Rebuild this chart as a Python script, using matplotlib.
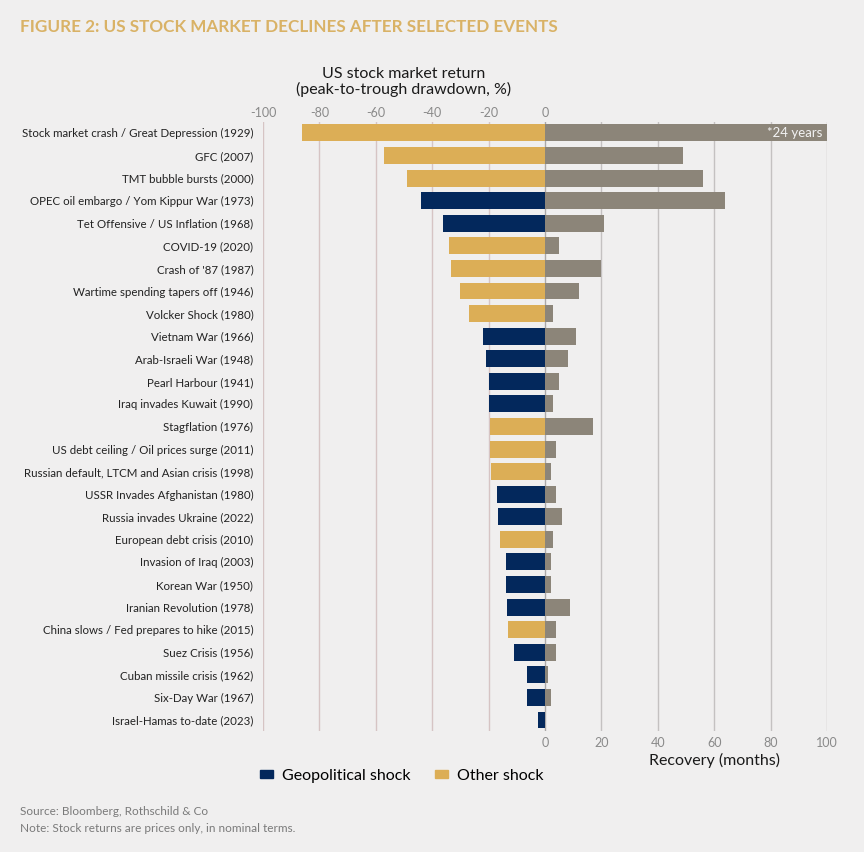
import matplotlib
matplotlib.use("Agg")
import matplotlib.pyplot as plt
from matplotlib.patches import Rectangle
import numpy as np

events = [
    "Stock market crash / Great Depression (1929)",
    "GFC (2007)",
    "TMT bubble bursts (2000)",
    "OPEC oil embargo / Yom Kippur War (1973)",
    "Tet Offensive / US Inflation (1968)",
    "COVID-19 (2020)",
    "Crash of '87 (1987)",
    "Wartime spending tapers off (1946)",
    "Volcker Shock (1980)",
    "Vietnam War (1966)",
    "Arab-Israeli War (1948)",
    "Pearl Harbour (1941)",
    "Iraq invades Kuwait (1990)",
    "Stagflation (1976)",
    "US debt ceiling / Oil prices surge (2011)",
    "Russian default, LTCM and Asian crisis (1998)",
    "USSR Invades Afghanistan (1980)",
    "Russia invades Ukraine (2022)",
    "European debt crisis (2010)",
    "Invasion of Iraq (2003)",
    "Korean War (1950)",
    "Iranian Revolution (1978)",
    "China slows / Fed prepares to hike (2015)",
    "Suez Crisis (1956)",
    "Cuban missile crisis (1962)",
    "Six-Day War (1967)",
    "Israel-Hamas to-date (2023)",
]
drawdown_pct = [-86, -57, -49, -44, -36, -34, -33.5, -30, -27, -22, -21, -20, -20,
                -19.5, -19.5, -19, -17, -16.5, -16, -14, -14, -13.5, -13, -11,
                -6.5, -6.5, -2.5]
recovery_months = [288, 49, 56, 64, 21, 5, 20, 12, 3, 11, 8, 5, 3,
                   17, 4, 2, 4, 6, 3, 2, 2, 9, 4, 4, 1, 2, 0]
shock_type = ["Other", "Other", "Other", "Geo", "Geo", "Other", "Other", "Other",
              "Other", "Geo", "Geo", "Geo", "Geo", "Other", "Other", "Other",
              "Geo", "Geo", "Other", "Geo", "Geo", "Geo", "Other", "Geo",
              "Geo", "Geo", "Geo"]
ticks = [-100, -80, -60, -40, -20, 0, 20, 40, 60, 80, 100]
top_tick_labels = ["-100", "-80", "-60", "-40", "-20", "0", "", "", "", "", ""]
bottom_tick_labels = ["", "", "", "", "", "0", "20", "40", "60", "80", "100"]

NAVY = "#03285C"
GOLD = "#DCAE56"
GREY = "#8C8579"
BG = "#F0EFEF"
FONT = ["Lato", "DejaVu Sans"]

plt.rcParams["font.family"] = FONT

fig = plt.figure(figsize=(8.64, 8.52), dpi=100, facecolor=BG)
ax = fig.add_axes([0.3044, 0.1417, 0.6528, 0.7155])
ax.set_facecolor(BG)

y = np.arange(len(events))
colors = [NAVY if t == "Geo" else GOLD for t in shock_type]
rec_shown = np.minimum(recovery_months, 100)

# gridlines
for t in ticks:
    c = "#D6C4C4" if t < 0 else "#C4C1C1"
    if t == 0:
        c = "#ABA8A8"
    ax.axvline(t, color=c, lw=1.0, zorder=0)

ax.barh(y, drawdown_pct, height=0.75, color=colors, edgecolor="none", zorder=2)
ax.barh(y, rec_shown, height=0.75, color=GREY, edgecolor="none", zorder=2)

ax.text(rec_shown[0] - 1.5, 0, "*24 years", color="#F2F2F2", fontsize=9.5,
        ha="right", va="center", zorder=3)

ax.set_xlim(-100, 100)
ax.set_ylim(len(events) - 0.5, -0.5)
ax.set_yticks(y)
ax.set_yticklabels(events, fontsize=8.3, color="#222222")
ax.tick_params(axis="y", length=0, pad=7)

ax.set_xticks(ticks)
ax.set_xticklabels(bottom_tick_labels, fontsize=9, color="#8a8a8a")
ax.tick_params(axis="x", length=0, pad=4, labeltop=False)
secax = ax.secondary_xaxis("top")
secax.set_xticks(ticks)
secax.set_xticklabels(top_tick_labels, fontsize=9, color="#8a8a8a")
secax.tick_params(length=0, pad=2)
for s in secax.spines.values():
    s.set_visible(False)
for s in ax.spines.values():
    s.set_visible(False)

fig.text(0.0231, 0.968, "FIGURE 2: US STOCK MARKET DECLINES AFTER SELECTED EVENTS",
         color="#D9B266", fontsize=12.3, fontweight="bold", ha="left", va="center")

# top axis title, centred over -50
fig.text(0.3044 + 0.6528 * 0.25, 0.904, "US stock market return\n(peak-to-trough drawdown, %)",
         fontsize=11.5, color="#1a1a1a", ha="center", va="center", linespacing=1.05)
fig.text(0.3044 + 0.6528 * 0.80, 0.108, "Recovery (months)", fontsize=11.5,
         color="#1a1a1a", ha="center", va="center")

handles = [Rectangle((0, 0), 1, 1, color=NAVY), Rectangle((0, 0), 1, 1, color=GOLD)]
fig.legend(handles, ["Geopolitical shock", "Other shock"], loc="center",
           bbox_to_anchor=(0.465, 0.089), ncol=2, frameon=False, fontsize=11.5,
           handlelength=0.8, handleheight=0.4, handletextpad=0.6, columnspacing=1.5)

fig.text(0.0231, 0.048, "Source: Bloomberg, Rothschild & Co", fontsize=8.5,
         color="#7a7a7a", ha="left", va="center")
fig.text(0.0231, 0.028, "Note: Stock returns are prices only, in nominal terms.",
         fontsize=8.5, color="#7a7a7a", ha="left", va="center")

fig.savefig("out.png", dpi=100, facecolor=BG)
